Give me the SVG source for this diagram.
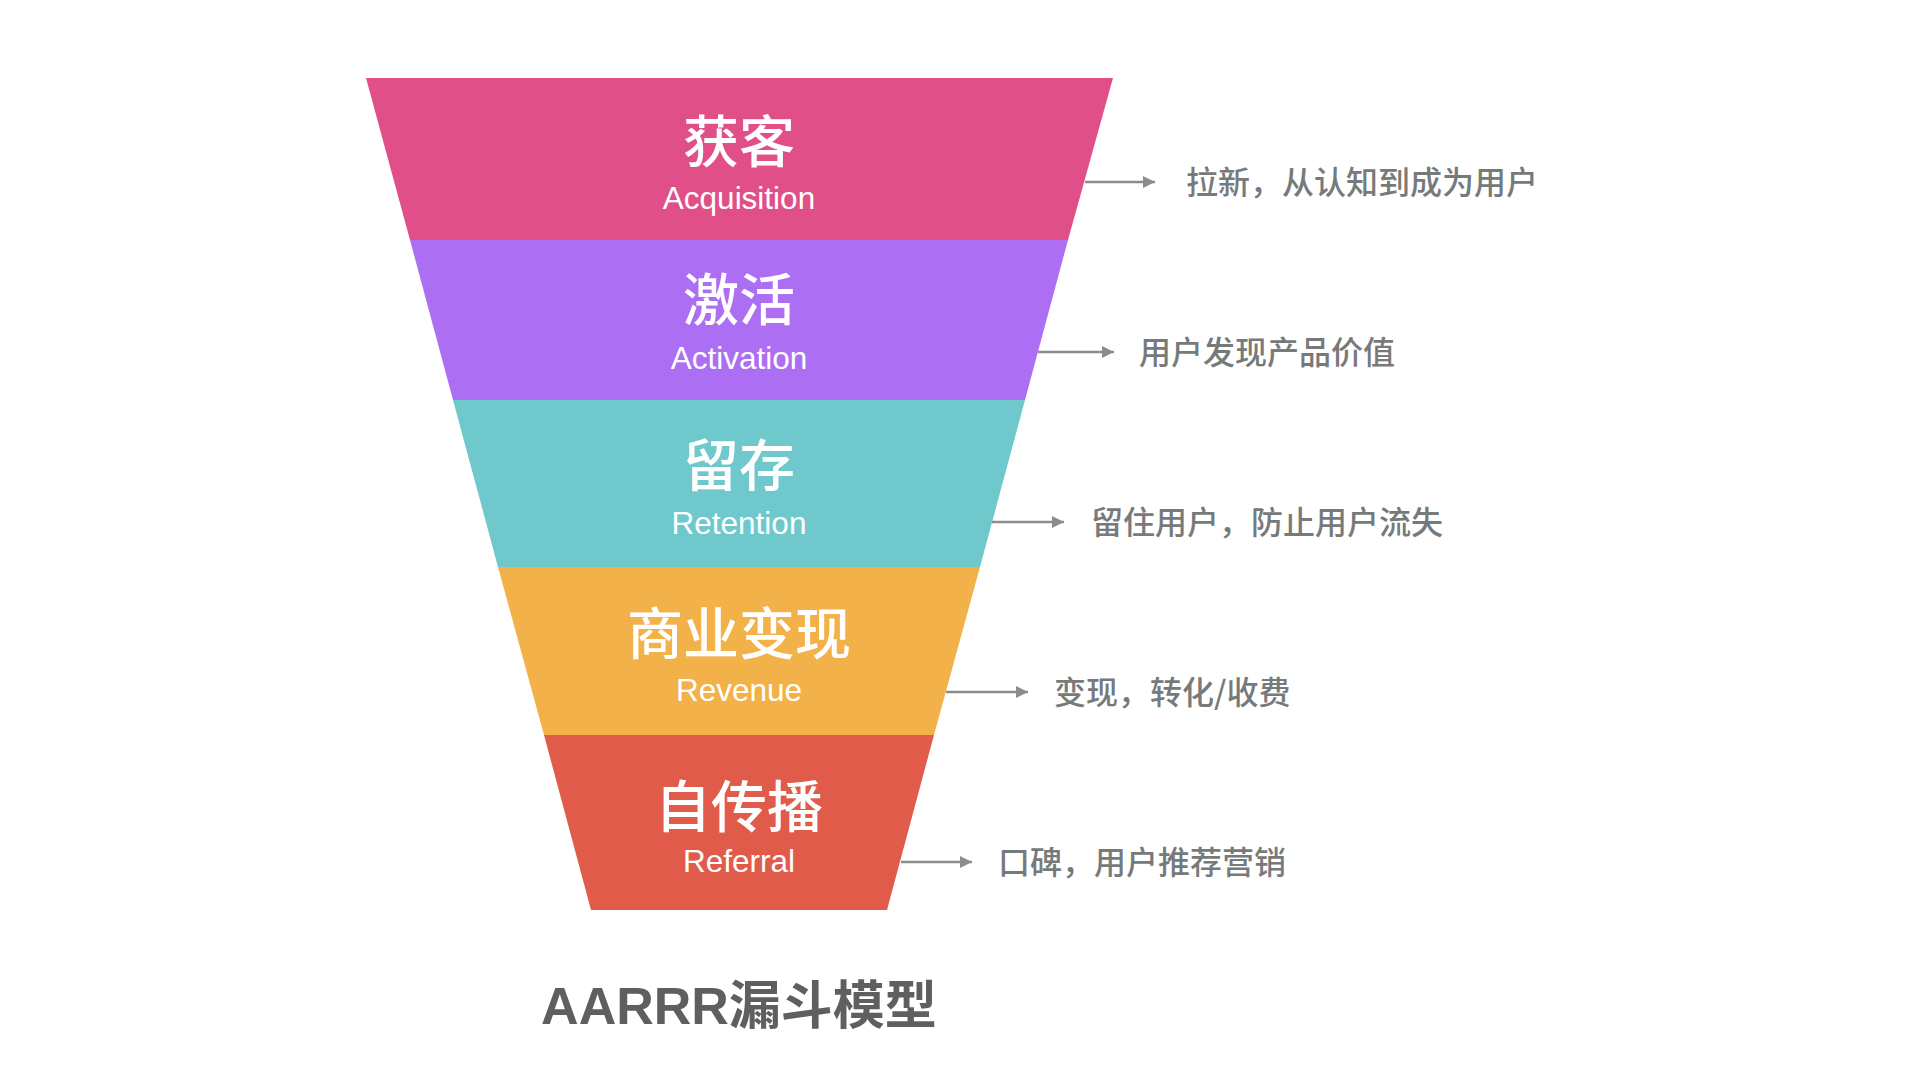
<svg xmlns="http://www.w3.org/2000/svg" width="1920" height="1080" viewBox="0 0 1920 1080">
<style>
.zh{font-family:"Noto Sans CJK SC","Noto Sans",sans-serif;font-size:56px;font-weight:500;fill:#fff;text-anchor:middle}
.en{font-family:"Liberation Sans","Noto Sans",sans-serif;font-size:31.5px;fill:#fff;text-anchor:middle}
.note{font-family:"Noto Sans CJK SC",sans-serif;font-size:32px;font-weight:500;fill:#777a7a}
.conn{stroke:#8c8c8c;stroke-width:2.5;fill:none}
.title{font-family:"Liberation Sans","Noto Sans CJK SC",sans-serif;font-size:52px;font-weight:bold;fill:#5f5f5f;text-anchor:middle}
</style>
<defs>
<marker id="ah" viewBox="0 0 10 10" refX="10" refY="5" markerWidth="5" markerHeight="5" markerUnits="strokeWidth" orient="auto">
<path d="M0,0 L10,5 L0,10 Z" fill="#8c8c8c"/>
</marker>
</defs>
<rect width="1920" height="1080" fill="#fff"/>
<g id="acquisition">
<polygon points="366,78 1113,78 1068,240 410,240" fill="#E04F87"/>
<text class="zh" x="739" y="162">获客</text>
<text class="en" x="739" y="209">Acquisition</text>
</g>
<g id="activation">
<polygon points="410,240 1068,240 1025,400 453,400" fill="#AC6FF3"/>
<text class="zh" x="739" y="320">激活</text>
<text class="en" x="739" y="369">Activation</text>
</g>
<g id="retention">
<polygon points="453,400 1025,400 980,567 498,567" fill="#6FC9CC"/>
<text class="zh" x="739" y="486">留存</text>
<text class="en" x="739" y="534">Retention</text>
</g>
<g id="revenue">
<polygon points="498,567 980,567 934,735 544,735" fill="#F3B249"/>
<text class="zh" x="739" y="654">商业变现</text>
<text class="en" x="739" y="701">Revenue</text>
</g>
<g id="referral">
<polygon points="544,735 934,735 887,910 591,910" fill="#E15B4B"/>
<text class="zh" x="739" y="827">自传播</text>
<text class="en" x="739" y="872">Referral</text>
</g>
<g id="connectors">
<line class="conn" x1="1085" y1="182" x2="1155" y2="182" marker-end="url(#ah)"/>
<line class="conn" x1="1038" y1="352" x2="1114" y2="352" marker-end="url(#ah)"/>
<line class="conn" x1="992" y1="522" x2="1064" y2="522" marker-end="url(#ah)"/>
<line class="conn" x1="946" y1="692" x2="1028" y2="692" marker-end="url(#ah)"/>
<line class="conn" x1="901" y1="862" x2="972" y2="862" marker-end="url(#ah)"/>
</g>
<g id="notes">
<text class="note" x="1186" y="194">拉新，从认知到成为用户</text>
<text class="note" x="1139" y="364">用户发现产品价值</text>
<text class="note" x="1091" y="534">留住用户，防止用户流失</text>
<text class="note" x="1054" y="704">变现，转化/收费</text>
<text class="note" x="998" y="874">口碑，用户推荐营销</text>
</g>
<g id="title">
<text class="title" x="739" y="1024">AARRR漏斗模型</text>
</g>
</svg>
